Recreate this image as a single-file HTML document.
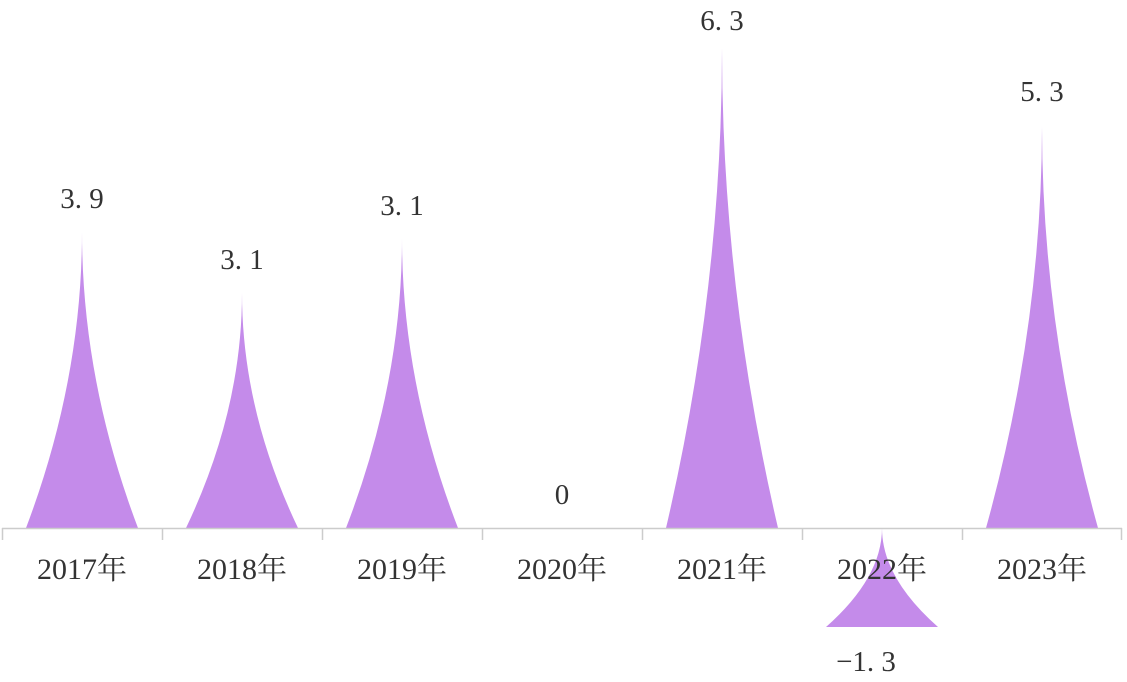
<!DOCTYPE html>
<html><head><meta charset="utf-8"><style>
html,body{margin:0;padding:0;background:#fff;}
svg{display:block;}
text{font-family:"Liberation Serif","Noto Serif CJK SC",serif;fill:#333;}
</style></head><body>
<svg width="1127" height="682" viewBox="0 0 1127 682" xmlns="http://www.w3.org/2000/svg">
<g fill="#c48bea">
<path d="M26,528 L138,528 Q82,380 82,232 Q82,380 26,528Z"/>
<path d="M186,528 L298,528 Q242,410.5 242,293 Q242,410.5 186,528Z"/>
<path d="M346,528 L458,528 Q402,383 402,238 Q402,383 346,528Z"/>
<path d="M666,528 L778,528 Q722,288 722,48 Q722,288 666,528Z"/>
<path d="M826,627 L938,627 Q882,577.5 882,528 Q882,577.5 826,627Z"/>
<path d="M986,528 L1098,528 Q1042,326.5 1042,125 Q1042,326.5 986,528Z"/>
</g>
<g stroke="#ccc" stroke-width="1.5" fill="none">
<line x1="2" y1="528.5" x2="1122" y2="528.5"/>
<line x1="2.5" y1="528" x2="2.5" y2="540"/>
<line x1="162.5" y1="528" x2="162.5" y2="540"/>
<line x1="322.5" y1="528" x2="322.5" y2="540"/>
<line x1="482.5" y1="528" x2="482.5" y2="540"/>
<line x1="642.5" y1="528" x2="642.5" y2="540"/>
<line x1="802.5" y1="528" x2="802.5" y2="540"/>
<line x1="962.5" y1="528" x2="962.5" y2="540"/>
<line x1="1121.5" y1="528" x2="1121.5" y2="540"/>
</g>
<g font-size="30" text-anchor="middle">
<text x="82" y="579">2017年</text>
<text x="242" y="579">2018年</text>
<text x="402" y="579">2019年</text>
<text x="562" y="579">2020年</text>
<text x="722" y="579">2021年</text>
<text x="882" y="579">2022年</text>
<text x="1042" y="579">2023年</text>
</g>
<g font-size="29" text-anchor="middle" xml:space="preserve">
<text x="82" y="208">3. 9</text>
<text x="242" y="269">3. 1</text>
<text x="402" y="215">3. 1</text>
<text x="562" y="504">0</text>
<text x="722" y="30">6. 3</text>
<text x="866" y="671">−1. 3</text>
<text x="1042" y="101">5. 3</text>
</g>
</svg>
</body></html>
